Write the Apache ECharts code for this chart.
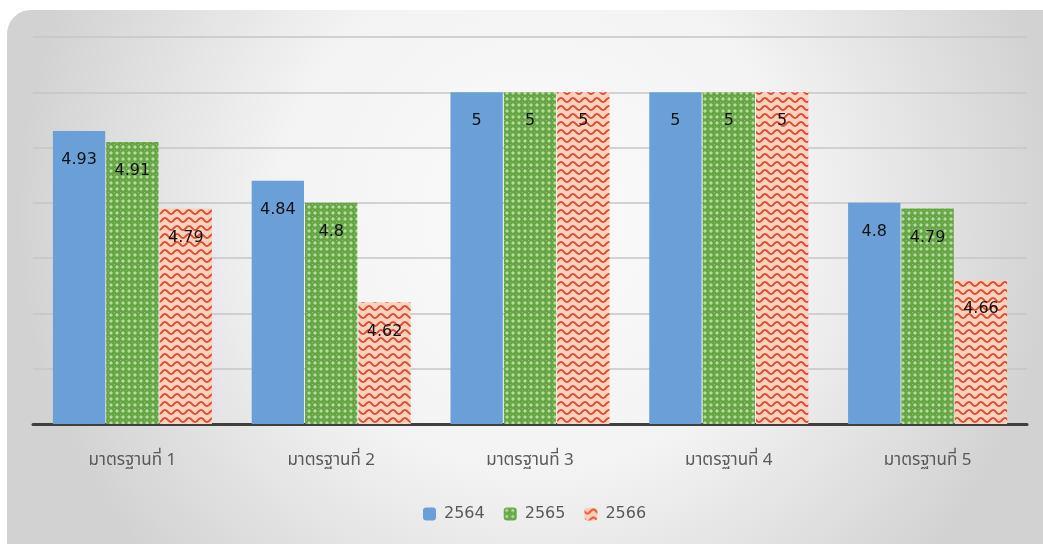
<!DOCTYPE html>
<html>
<head>
<meta charset="utf-8">
<script src="https://cdn.jsdelivr.net/npm/echarts@6/dist/echarts.min.js"></script>
<style>
html,body{margin:0;padding:0;background:#fff;}
#c{width:1043px;height:544px;}
</style>
</head>
<body>
<div id="c"></div>
<script>
var categories = ['มาตรฐานที่ 1','มาตรฐานที่ 2','มาตรฐานที่ 3','มาตรฐานที่ 4','มาตรฐานที่ 5'];
var seriesNames = ['2564','2565','2566'];
var s2564 = [4.93, 4.84, 5, 5, 4.8];
var s2565 = [4.91, 4.8, 5, 5, 4.79];
var s2566 = [4.79, 4.62, 5, 5, 4.66];

function greenPattern(){
  var c = document.createElement('canvas');
  c.width = 6; c.height = 6;
  var g = c.getContext('2d');
  g.fillStyle = '#66a546'; g.fillRect(0,0,6,6);
  g.fillStyle = '#b8dca0';
  g.beginPath(); g.moveTo(3,1); g.lineTo(5,3); g.lineTo(3,5); g.lineTo(1,3); g.closePath(); g.fill();
  g.fillStyle = '#8fc470';
  g.fillRect(0,0,1,1);
  return c;
}
function redPattern(){
  var c = document.createElement('canvas');
  c.width = 12; c.height = 8;
  var g = c.getContext('2d');
  g.fillStyle = '#fbd2bd'; g.fillRect(0,0,12,8);
  g.strokeStyle = '#e4492f'; g.lineWidth = 1.8;
  g.beginPath();
  for (var x = -1; x <= 13; x += 0.5) {
    var y = 4 + 2 * Math.sin((x / 12) * Math.PI * 2);
    if (x === -1) g.moveTo(x, y); else g.lineTo(x, y);
  }
  g.stroke();
  return c;
}

var chart = echarts.init(document.getElementById('c'));
var labelCfg = {
  show: true, position: 'insideTop', distance: 21,
  color: '#111', fontSize: 16, fontFamily: 'Tahoma, "DejaVu Sans", Verdana, sans-serif'
};
chart.setOption({
  animation: false,
  graphic: [{
    type: 'rect', z: -10, silent: true,
    shape: {x: 7, y: 10, width: 1060, height: 580, r: 24},
    style: {
      fill: {type: 'radial', x: 0.5, y: 0.35, r: 0.9, colorStops: [
        {offset: 0, color: '#fbfbfb'},
        {offset: 0.5, color: '#f3f3f3'},
        {offset: 1, color: '#d2d2d2'}
      ]}
    }
  }],
  grid: {left: 33, right: 16, top: 37, bottom: 120, containLabel: false},
  legend: {
    data: seriesNames, bottom: 17, left: 418,
    itemWidth: 13, itemHeight: 13, itemGap: 19,
    textStyle: {color: '#595959', fontSize: 16, padding: [0,0,0,3], fontFamily: 'Tahoma, "DejaVu Sans", sans-serif'}
  },
  xAxis: {
    type: 'category', data: categories,
    axisLine: {lineStyle: {color: '#3f3f3f', width: 3}},
    axisTick: {show: false},
    axisLabel: {color: '#595959', fontSize: 17, margin: 29, fontFamily: 'Tahoma, "Noto Sans Thai", "Loma", "Garuda", sans-serif'}
  },
  yAxis: {
    type: 'value', min: 4.4, max: 5.1, interval: 0.1,
    axisLabel: {show: false}, axisLine: {show: false}, axisTick: {show: false},
    splitLine: {lineStyle: {color: '#c6c6c6', width: 1.5}}
  },
  series: [
    {name: seriesNames[0], type: 'bar', data: s2564, barGap: '2%', barCategoryGap: '20%',
     itemStyle: {color: '#6a9fd7'}, label: labelCfg},
    {name: seriesNames[1], type: 'bar', data: s2565, barGap: '2%', barCategoryGap: '20%',
     itemStyle: {color: {image: greenPattern(), repeat: 'repeat'}}, label: labelCfg},
    {name: seriesNames[2], type: 'bar', data: s2566, barGap: '2%', barCategoryGap: '20%',
     itemStyle: {color: {image: redPattern(), repeat: 'repeat'}}, label: labelCfg}
  ]
});
</script>
</body>
</html>
